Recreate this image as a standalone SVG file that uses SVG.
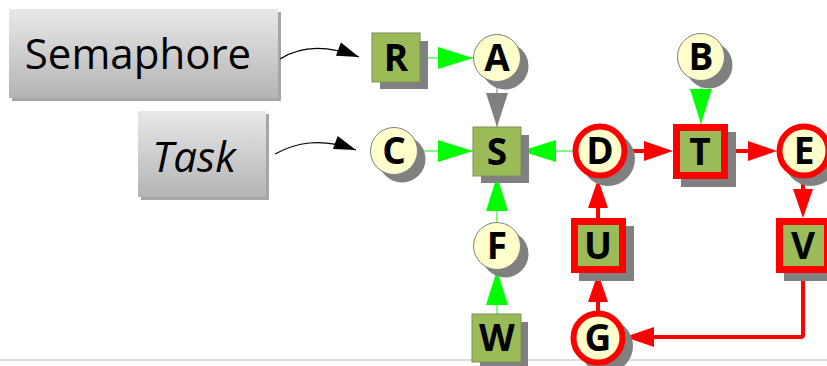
<svg xmlns="http://www.w3.org/2000/svg" width="827" height="366" viewBox="0 0 827 366">
<style>
.lbl{font-family:"Open Sans","Noto Sans","DejaVu Sans",sans-serif;font-size:42px;fill:#000}
.nt{font-family:"Open Sans","Noto Sans","DejaVu Sans",sans-serif;font-weight:bold;font-size:37px;fill:#000;text-anchor:middle}
.sq{fill:#9bbb59;stroke:#7d8f5c;stroke-width:1}
.sqr{fill:#9bbb59;stroke:#ff0000;stroke-width:7}
.ci{fill:#ffffcc;stroke:#808080;stroke-width:1}
.cir{fill:#ffffcc;stroke:#ff0000;stroke-width:6}
.sh{fill:#808080}
.bsh{fill:#a6a6a6}
.g{stroke:#00ff00;stroke-width:1;fill:none;marker-end:url(#mg)}
.r{stroke:#ff0000;stroke-width:4;fill:none;marker-end:url(#mr)}
.k{stroke:#000;stroke-width:1.2;fill:none;marker-end:url(#mk)}
</style>
<defs>
<linearGradient id="bg" x1="0" y1="0" x2="0" y2="1">
<stop offset="0" stop-color="#e8e8e8"/>
<stop offset="1" stop-color="#b4b4b4"/>
</linearGradient>
<marker id="mg" markerUnits="userSpaceOnUse" markerWidth="35" markerHeight="22" refX="35" refY="11" orient="auto" overflow="visible"><path d="M0,0 L35,11 L0,22 z" fill="#00ff00"/></marker>
<marker id="mr" markerUnits="userSpaceOnUse" markerWidth="29" markerHeight="20" refX="19" refY="10" orient="auto" overflow="visible"><path d="M0,0 L29,10 L0,20 z" fill="#ff0000"/></marker>
<marker id="mgr" markerUnits="userSpaceOnUse" markerWidth="34" markerHeight="22" refX="34" refY="11" orient="auto" overflow="visible"><path d="M0,0 L34,11 L0,22 z" fill="#808080"/></marker>
<marker id="mk" markerUnits="userSpaceOnUse" markerWidth="22" markerHeight="14" refX="22" refY="7" orient="auto" overflow="visible"><path d="M0,0 L22,7 L0,14 z" fill="#000"/></marker>
</defs>
<rect x="0" y="0" width="827" height="366" fill="#fff"/>
<line x1="0" y1="360" x2="827" y2="360" stroke="#dcdcdc" stroke-width="2"/>

<g id="semaphore">
<rect class="bsh" x="12" y="12" width="269" height="89"/>
<rect x="9" y="9" width="269" height="89" fill="url(#bg)"/>
<text class="lbl" x="138" y="69" text-anchor="middle">Semaphore</text>
</g>
<g id="task">
<rect class="bsh" x="141" y="114" width="128" height="86"/>
<rect x="138" y="111" width="128" height="86" fill="url(#bg)"/>
<text class="lbl" x="194" y="172" text-anchor="middle" font-style="italic" font-size="41">Task</text>
</g>

<g id="connectors">
<path class="k" d="M280,59 C300,46 325,44 359,57"/>
<path class="k" d="M275,154 C295,143 320,137 356,150"/>
<line class="g" x1="420" y1="58" x2="473" y2="58"/>
<line x1="497" y1="81" x2="497" y2="127" stroke="#808080" stroke-width="1" marker-end="url(#mgr)"/>
<line class="g" x1="417" y1="151" x2="473" y2="151"/>
<line class="g" x1="575" y1="151" x2="521" y2="151"/>
<line class="g" x1="701" y1="80" x2="701" y2="124"/>
<line class="g" x1="497" y1="269" x2="497" y2="176"/>
<line class="g" x1="497" y1="314" x2="497" y2="270"/>
<line class="r" x1="626" y1="151" x2="663" y2="151"/>
<line class="r" x1="728" y1="151" x2="767" y2="151"/>
<line class="r" x1="803" y1="178" x2="803" y2="208"/>
<line class="r" x1="598" y1="311" x2="598" y2="283"/>
<line class="r" x1="598" y1="218" x2="598" y2="189"/>
<path class="r" d="M803,273 V335 Q803,337 801,337 H635" stroke-linejoin="round"/>
</g>

<g id="R"><rect class="sh" x="380" y="41" width="48" height="48"/><rect class="sq" x="372" y="33" width="48" height="49"/><text class="nt" x="396" y="71">R</text></g>
<g id="A"><circle class="sh" cx="505" cy="66" r="23.5"/><circle class="ci" cx="497" cy="58" r="23.5"/><text class="nt" x="497" y="71">A</text></g>
<g id="B"><circle class="sh" cx="709" cy="65" r="23.5"/><circle class="ci" cx="701" cy="57" r="23.5"/><text class="nt" x="701" y="70">B</text></g>
<g id="C"><circle class="sh" cx="402" cy="159" r="23.5"/><circle class="ci" cx="394" cy="151" r="23.5"/><text class="nt" x="394" y="164">C</text></g>
<g id="S"><rect class="sh" x="481" y="135" width="48" height="48"/><rect class="sq" x="473" y="127" width="48" height="49"/><text class="nt" x="497" y="165">S</text></g>
<g id="D"><circle class="sh" cx="608" cy="159" r="27"/><circle class="cir" cx="600" cy="151" r="24.5"/><text class="nt" x="600" y="164">D</text></g>
<g id="T"><rect class="sh" x="681" y="132" width="55" height="55"/><rect class="sqr" x="676.5" y="127.5" width="48" height="48"/><text class="nt" x="700" y="165">T</text></g>
<g id="E"><circle class="sh" cx="811" cy="159" r="27"/><circle class="cir" cx="804" cy="151" r="24.5"/><text class="nt" x="804" y="164">E</text></g>
<g id="F"><circle class="sh" cx="505" cy="254" r="23.5"/><circle class="ci" cx="497" cy="246" r="23.5"/><text class="nt" x="497" y="259">F</text></g>
<g id="U"><rect class="sh" x="579" y="226" width="55" height="55"/><rect class="sqr" x="574.5" y="221.5" width="48" height="48"/><text class="nt" x="598" y="259">U</text></g>
<g id="V"><rect class="sh" x="784" y="226" width="55" height="55"/><rect class="sqr" x="779.5" y="221.5" width="48" height="48"/><text class="nt" x="803" y="259">V</text></g>
<g id="W"><rect class="sh" x="480" y="322" width="48" height="48"/><rect class="sq" x="472" y="314" width="49" height="48"/><text class="nt" x="497" y="351">W</text></g>
<g id="G"><circle class="sh" cx="606" cy="346" r="27"/><circle class="cir" cx="598" cy="338" r="24.5"/><text class="nt" x="598" y="351">G</text></g>
</svg>
